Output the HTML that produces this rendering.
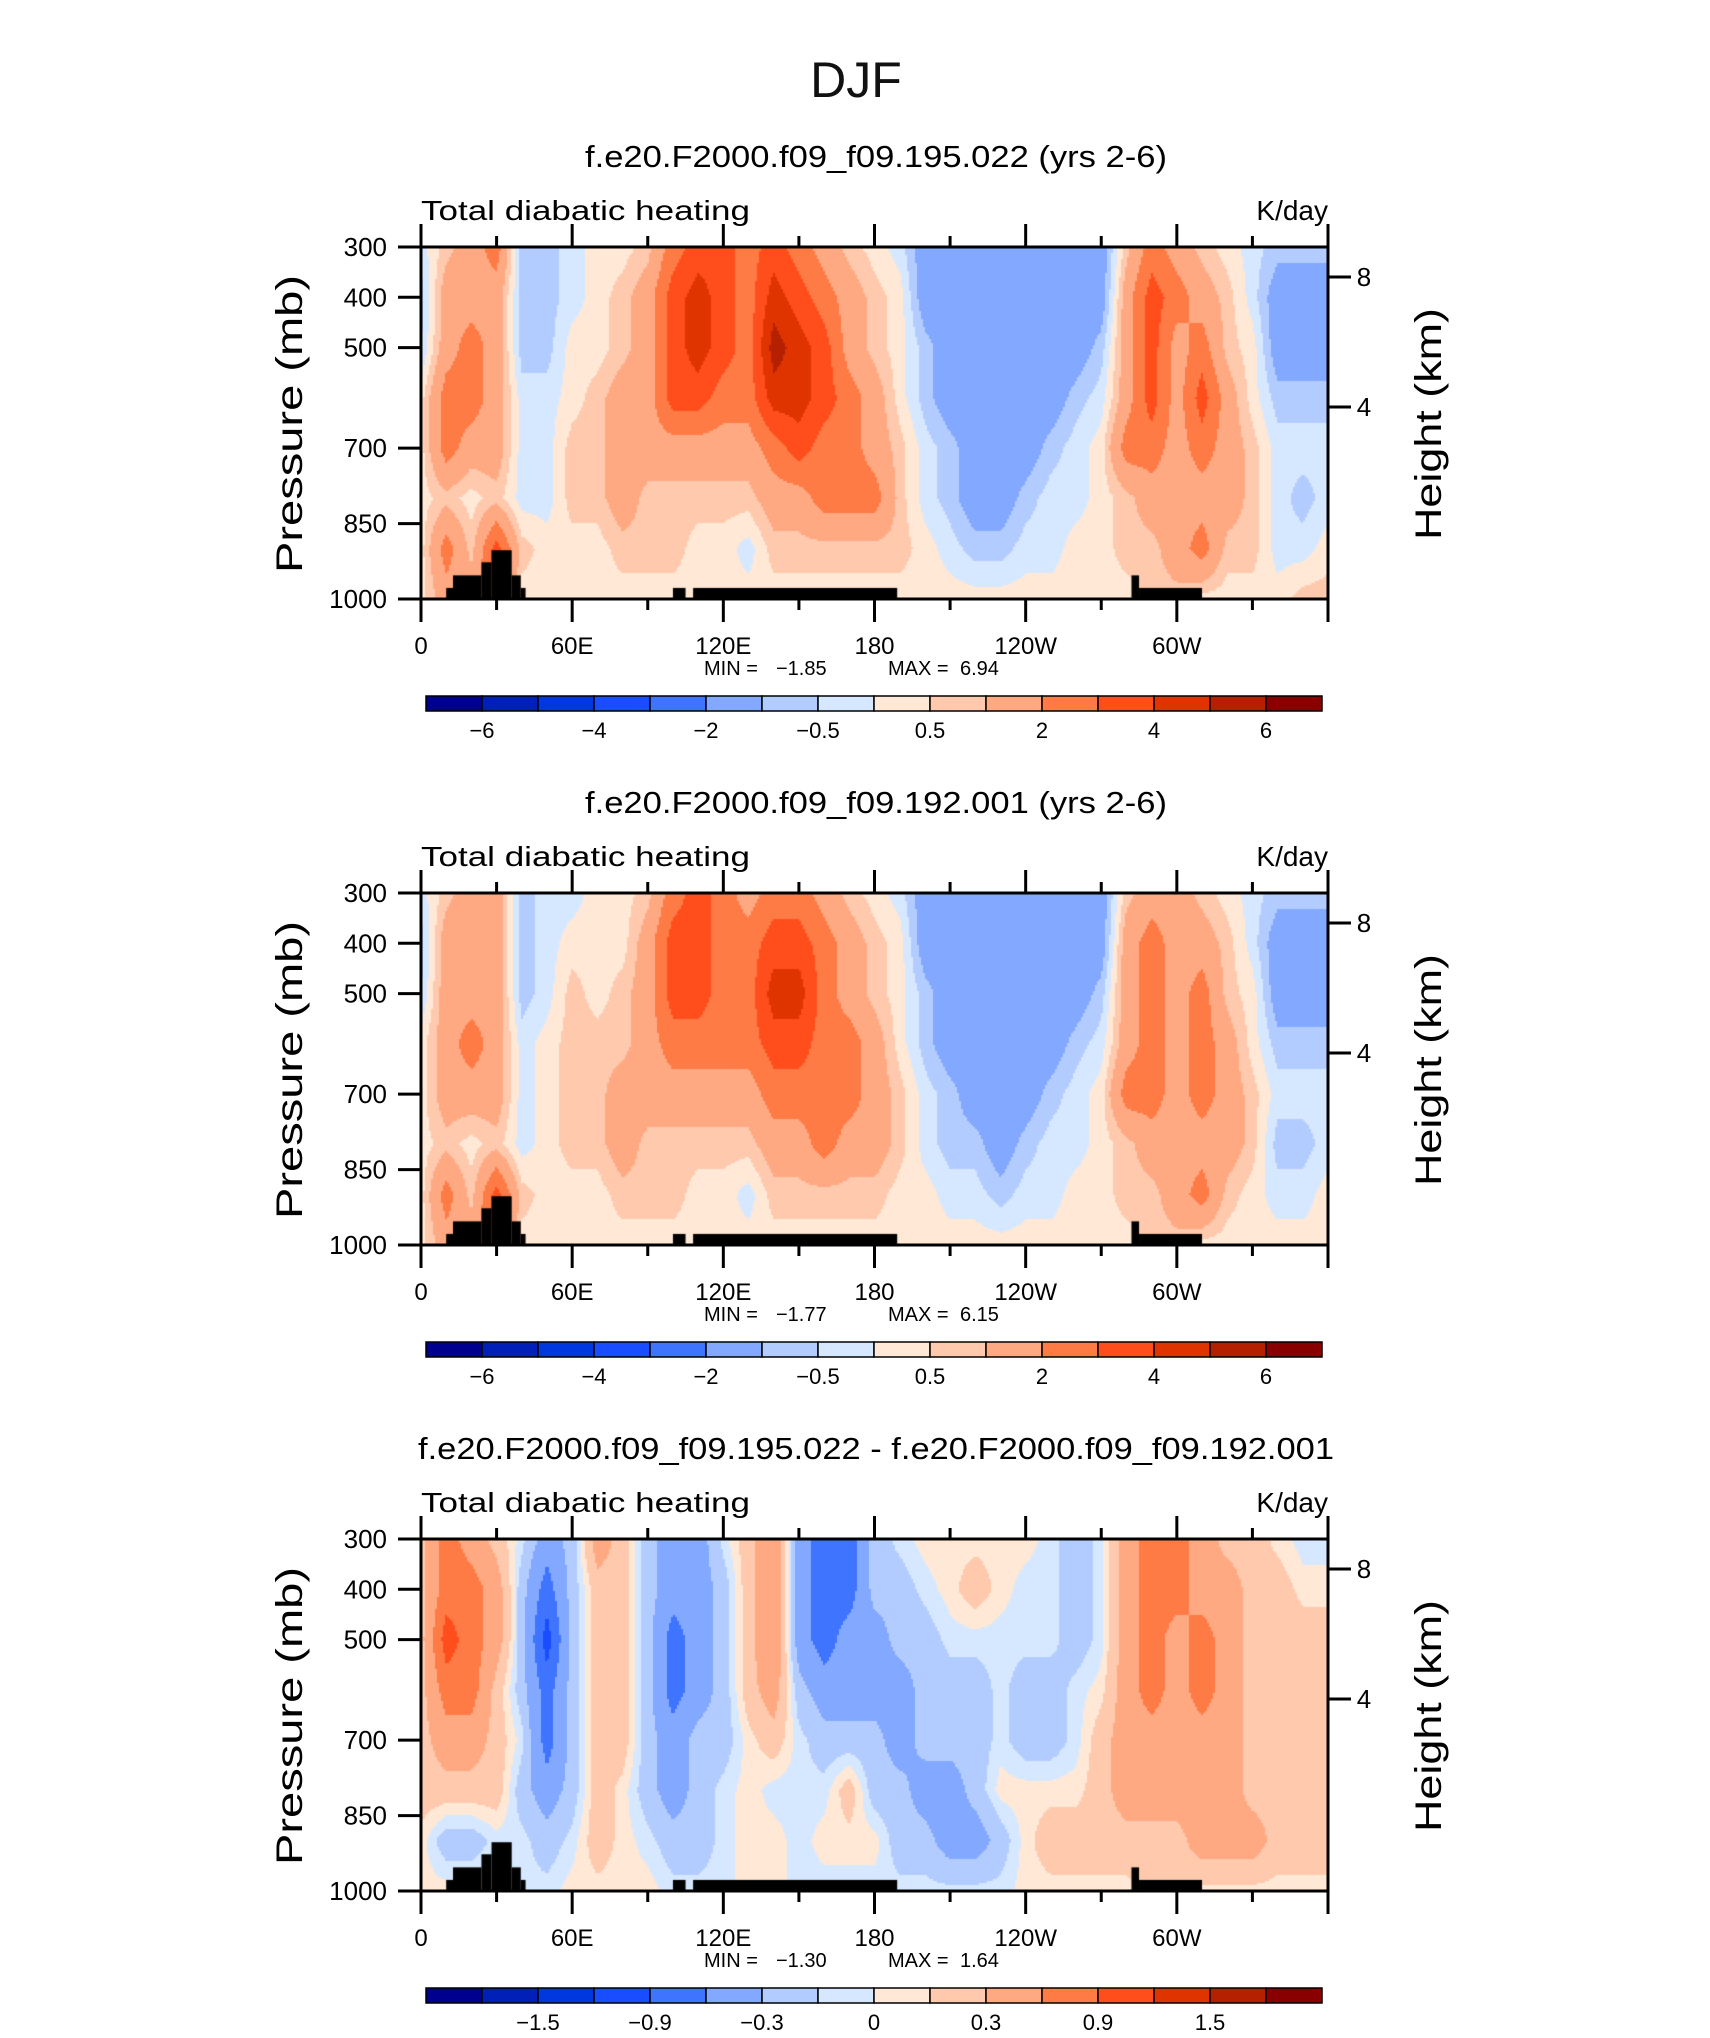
<!DOCTYPE html>
<html><head><meta charset="utf-8"><style>
body{margin:0;background:#fff;width:1710px;height:2038px;position:relative;overflow:hidden;font-family:"Liberation Sans",sans-serif}
canvas{position:absolute}
svg{position:absolute;left:0;top:0}
</style></head><body>
<canvas id="c1" width="907" height="352" style="left:421px;top:247px"></canvas>
<canvas id="c2" width="907" height="352" style="left:421px;top:893px"></canvas>
<canvas id="c3" width="907" height="352" style="left:421px;top:1539px"></canvas>
<svg id="ov" width="1710" height="2038"></svg>
<script>
// ---- data ----
const lonGrid=[0,10,20,30,40,50,60,70,80,90,100,110,120,130,140,150,160,170,180,190,200,210,220,230,240,250,260,270,280,290,300,310,320,330,340,350,360];
const presGrid=[300,400,500,600,700,800,900,1000];
const field1=[
[-0.25,-0.75,-0.5,0.25,0.25,0.25,0.25,0.25],
[0.75,1.5,1.5,2.5,2.5,0.75,2.5,1.5],
[1.5,1.5,2.5,2.5,1.5,0.25,0.75,1.5],
[2.5,1.5,1.5,1.5,1.5,0.75,3.5,3.5],
[-0.75,-0.75,-0.75,-0.25,-0.25,-0.25,0.75,0.25],
[-0.75,-0.75,-0.75,-0.25,-0.25,-0.25,0.25,0.25],
[-0.25,-0.25,0.25,0.25,0.75,0.75,0.25,0.25],
[0.25,0.25,0.25,0.75,0.75,0.75,0.25,0.25],
[0.25,0.75,0.75,1.5,1.5,1.5,0.75,0.25],
[0.75,1.5,1.5,1.5,1.5,0.75,0.75,0.25],
[2.5,3.5,3.5,3.5,1.5,0.75,0.75,0.25],
[3.5,4.5,4.5,3.5,1.5,0.75,0.25,0.25],
[3.5,3.5,3.5,2.5,1.5,0.75,0.25,0.25],
[2.5,2.5,2.5,2.5,1.5,0.75,-0.25,0.25],
[3.5,4.5,5.5,4.5,2.5,1.5,0.75,0.25],
[2.5,3.5,4.5,4.5,3.5,1.5,0.75,0.25],
[1.5,2.5,3.5,3.5,2.5,2.5,0.75,0.25],
[0.75,1.5,1.5,2.5,2.5,2.5,0.75,0.25],
[0.25,0.75,0.75,1.5,1.5,2.5,0.75,0.25],
[-0.25,0.25,0.25,0.25,0.75,0.75,0.75,0.25],
[-1.5,-1.5,-0.75,-0.75,-0.25,-0.25,0.25,0.25],
[-1.5,-1.5,-1.5,-1.5,-0.75,-0.75,-0.25,0.25],
[-1.5,-1.5,-1.5,-1.5,-1.5,-1.5,-0.75,0.25],
[-1.5,-1.5,-1.5,-1.5,-1.5,-1.5,-0.75,0.25],
[-1.5,-1.5,-1.5,-1.5,-1.5,-0.75,-0.25,0.25],
[-1.5,-1.5,-1.5,-1.5,-0.75,-0.25,-0.25,0.25],
[-1.5,-1.5,-1.5,-0.75,-0.25,-0.25,0.25,0.25],
[-1.5,-1.5,-0.75,-0.25,0.25,0.25,0.25,0.25],
[0.75,1.5,1.5,1.5,2.5,0.75,0.75,0.25],
[2.5,3.5,3.5,3.5,2.5,1.5,0.75,0.75],
[1.5,2.5,1.5,1.5,1.5,1.5,1.5,0.75],
[0.75,1.5,2.5,3.5,2.5,1.5,2.5,0.25],
[0.25,0.75,0.75,1.5,1.5,1.5,0.75,0.25],
[-0.25,-0.25,0.25,0.25,0.75,0.75,0.75,0.25],
[-0.75,-1.5,-1.5,-0.75,-0.25,-0.25,-0.25,0.25],
[-0.75,-1.5,-1.5,-0.75,-0.25,-0.75,-0.25,0.75],
[-0.75,-1.5,-1.5,-0.75,-0.25,-0.25,0.25,0.75]];
const field2=[
[-0.25,-0.75,-0.5,0.25,0.25,0.25,0.25,0.25],
[0.75,1.5,1.5,1.5,1.5,0.75,2.5,1.5],
[1.5,1.5,1.5,2.5,1.5,0.25,0.75,1.5],
[1.5,1.5,1.5,1.5,1.5,0.75,3.5,3.5],
[-0.75,-0.75,-0.75,-0.25,-0.25,-0.25,0.75,0.25],
[-0.25,-0.25,-0.25,0.25,0.25,0.25,0.25,0.25],
[-0.25,0.25,0.75,0.75,0.75,0.75,0.25,0.25],
[0.25,0.25,0.25,0.75,0.75,0.75,0.25,0.25],
[0.25,0.25,0.75,0.75,1.5,1.5,0.75,0.25],
[0.75,1.5,1.5,1.5,1.5,0.75,0.75,0.25],
[2.5,3.5,3.5,2.5,1.5,0.75,0.75,0.25],
[3.5,3.5,3.5,2.5,1.5,0.75,0.25,0.25],
[2.5,2.5,2.5,2.5,1.5,0.75,0.25,0.25],
[1.5,2.5,2.5,2.5,1.5,0.75,-0.25,0.25],
[2.5,3.5,4.5,3.5,2.5,1.5,0.75,0.25],
[2.5,3.5,4.5,3.5,2.5,1.5,0.75,0.25],
[1.5,2.5,2.5,2.5,2.5,2.5,0.75,0.25],
[0.75,1.5,1.5,2.5,2.5,1.5,0.75,0.25],
[0.25,0.75,0.75,1.5,1.5,1.5,0.75,0.25],
[-0.25,0.25,0.25,0.25,0.75,0.75,0.25,0.25],
[-1.5,-1.5,-0.75,-0.75,-0.25,-0.25,0.25,0.25],
[-1.5,-1.5,-1.5,-1.5,-0.75,-0.75,-0.25,0.25],
[-1.5,-1.5,-1.5,-1.5,-1.5,-0.75,-0.25,0.25],
[-1.5,-1.5,-1.5,-1.5,-1.5,-1.5,-0.75,0.25],
[-1.5,-1.5,-1.5,-1.5,-1.5,-0.75,-0.25,0.25],
[-1.5,-1.5,-1.5,-1.5,-0.75,-0.25,-0.25,0.25],
[-1.5,-1.5,-1.5,-0.75,-0.25,-0.25,0.25,0.25],
[-1.5,-1.5,-0.75,-0.25,0.25,0.25,0.25,0.25],
[0.75,1.5,1.5,1.5,2.5,0.75,0.75,0.25],
[1.5,2.5,2.5,2.5,2.5,1.5,0.75,0.75],
[1.5,1.5,1.5,1.5,1.5,1.5,1.5,0.75],
[0.75,1.5,2.5,2.5,2.5,1.5,2.5,0.25],
[0.25,0.75,0.75,1.5,1.5,1.5,0.75,0.25],
[-0.25,-0.25,0.25,0.25,0.75,0.75,0.25,0.25],
[-0.75,-1.5,-1.5,-0.75,-0.25,-0.75,-0.25,0.25],
[-0.75,-1.5,-1.5,-0.75,-0.25,-0.75,-0.25,0.25],
[-0.75,-1.5,-1.5,-0.75,-0.25,-0.25,0.25,0.25]];
const field3=[
[0.2,0.2,0.2,0.2,0.2,0.2,0.05,0.05],
[0.75,0.75,1.05,0.75,0.45,0.2,-0.2,0.05],
[0.45,0.75,0.75,0.75,0.45,0.2,-0.2,0.05],
[0.2,0.45,0.45,0.2,0.2,0.2,-0.05,0.05],
[-0.05,-0.2,-0.2,-0.2,-0.05,-0.2,-0.05,-0.05],
[-0.45,-0.75,-1.05,-0.75,-0.75,-0.45,-0.2,-0.05],
[-0.2,-0.2,-0.2,-0.2,-0.2,-0.2,-0.05,0.05],
[0.45,0.2,0.2,0.2,0.2,0.2,0.2,0.05],
[0.2,0.2,0.2,0.2,0.2,0.05,0.05,0.05],
[-0.2,-0.2,-0.2,-0.2,-0.2,-0.2,-0.05,0.05],
[-0.45,-0.45,-0.75,-0.75,-0.45,-0.45,-0.2,-0.05],
[-0.45,-0.45,-0.45,-0.45,-0.2,-0.2,-0.2,-0.05],
[-0.05,-0.2,-0.2,-0.2,-0.2,-0.05,-0.05,-0.05],
[0.2,0.2,0.2,0.2,0.05,0.05,0.05,0.05],
[0.6,0.6,0.6,0.45,0.2,-0.05,0.05,0.05],
[-0.45,-0.45,-0.45,-0.2,-0.05,-0.05,-0.05,-0.05],
[-0.75,-0.75,-0.75,-0.45,-0.2,-0.05,0.05,-0.05],
[-0.75,-0.75,-0.45,-0.45,-0.2,0.2,0.05,-0.05],
[-0.2,-0.2,-0.45,-0.45,-0.2,-0.2,0.05,-0.05],
[-0.05,-0.2,-0.2,-0.45,-0.45,-0.2,-0.2,-0.05],
[0.05,-0.05,-0.2,-0.2,-0.2,-0.45,-0.2,-0.05],
[0.05,0.05,-0.05,-0.2,-0.2,-0.45,-0.45,-0.05],
[0.05,0.2,-0.05,-0.2,-0.2,-0.2,-0.45,-0.05],
[0.05,0.05,-0.05,-0.05,-0.05,0.05,-0.2,-0.05],
[0.05,-0.05,-0.05,-0.2,-0.2,0.05,0.05,0.05],
[-0.05,-0.05,-0.05,-0.2,-0.2,0.05,0.2,0.05],
[-0.2,-0.2,-0.2,-0.05,-0.05,0.05,0.2,0.05],
[-0.05,-0.05,-0.05,0.05,0.2,0.2,0.2,0.05],
[0.45,0.45,0.45,0.45,0.45,0.45,0.2,0.05],
[0.75,0.75,0.75,0.75,0.45,0.45,0.2,0.2],
[0.75,0.75,0.45,0.45,0.45,0.45,0.2,0.2],
[0.45,0.45,0.75,0.75,0.45,0.45,0.45,0.05],
[0.2,0.45,0.45,0.45,0.45,0.45,0.45,0.05],
[0.2,0.2,0.2,0.2,0.2,0.2,0.45,0.05],
[0.05,0.2,0.2,0.2,0.2,0.2,0.2,0.05],
[-0.05,0.05,0.2,0.2,0.2,0.2,0.2,0.05],
[-0.05,0.05,0.2,0.2,0.2,0.2,0.2,0.05]];
const levels12=[-6,-5,-4,-3,-2,-1,-0.5,0,0.5,1,2,3,4,5,6];
const levels3=[-1.8,-1.5,-1.2,-0.9,-0.6,-0.3,-0.1,0,0.1,0.3,0.6,0.9,1.2,1.5,1.8];
const cbLabels12=["−6","−4","−2","−0.5","0.5","2","4","6"];
const cbLabels3=["−1.5","−0.9","−0.3","0","0.3","0.9","1.5"];
const colors=["#00008f","#0020b8","#0038e0","#1a4dff","#3f74ff","#82a8ff","#b3ccff","#d6e8ff","#ffe9d6","#ffc9ae","#ffa982","#ff7b46","#ff4e1b","#e03400","#b52000","#880000"];
const topoStart=[10,12.7,24,28,36,39.6,100,108,282,285];
const topoEnd=[12.7,24,28,36,39.6,41.5,105,189,285,310];
const topoPres=[978,953,927,903,953,978,978,978,953,978];
const lonTicks=[0,60,120,180,240,300];
const lonLabels=["0","60E","120E","180","120W","60W"];
const presTicks=[300,400,500,700,850,1000];
const heightTicks=[8,4];
const panelTitles=["f.e20.F2000.f09_f09.195.022 (yrs 2-6)","f.e20.F2000.f09_f09.192.001 (yrs 2-6)","f.e20.F2000.f09_f09.195.022 - f.e20.F2000.f09_f09.192.001"];
const minVals=["−1.85","−1.77","−1.30"];
const maxVals=["6.94","6.15","1.64"];

// ---- layout ----
const PL=421,PW=907,PH=352,TOPS=[247,893,1539];
const xOf=lon=>lon/360*PW;
const yOf=p=>(p-300)/700*PH;
const heightY=[30,160];

function interp(field,lon,p){
  let i=Math.min(Math.floor(lon/10),35), fx=(lon-lonGrid[i])/10;
  let j=0; while(j<presGrid.length-2 && p>presGrid[j+1]) j++;
  let fy=(p-presGrid[j])/(presGrid[j+1]-presGrid[j]); fy=Math.max(0,Math.min(1,fy));
  const a=field[i][j],b=field[i+1][j],c=field[i][j+1],d=field[i+1][j+1];
  return a*(1-fx)*(1-fy)+b*fx*(1-fy)+c*(1-fx)*fy+d*fx*fy;
}
function cls(v,lv){let k=0;while(k<lv.length&&v>=lv[k])k++;return k;}
function draw(id,field,lv){
  const ctx=document.getElementById(id).getContext('2d');
  const s=2;
  for(let x=0;x<PW;x+=s){for(let y=0;y<PH;y+=s){
    const lon=(x+1)/PW*360,p=300+(y+1)/PH*700;
    ctx.fillStyle=colors[cls(interp(field,lon,p),lv)];ctx.fillRect(x,y,s,s);}}
  ctx.fillStyle="#000";
  for(let k=0;k<topoStart.length;k++){
    const x0=xOf(topoStart[k]),x1=xOf(topoEnd[k]),y0=yOf(topoPres[k]);
    ctx.fillRect(x0,y0,x1-x0,PH-y0);}
}
draw('c1',field1,levels12);draw('c2',field2,levels12);draw('c3',field3,levels3);

const NS="http://www.w3.org/2000/svg",svg=document.getElementById('ov');
function el(tag,attrs,txt){const e=document.createElementNS(NS,tag);for(const k in attrs)e.setAttribute(k,attrs[k]);if(txt!==undefined)e.textContent=txt;svg.appendChild(e);return e;}
let t=el('text',{x:856,y:97,'font-size':50,'text-anchor':'middle','font-weight':'300',fill:'#111'},'DJF');



TOPS.forEach((T,pi)=>{
  const lv=pi<2?cbLabels12:cbLabels3;
  let e=el('text',{x:876,y:T-80,'font-size':31,'text-anchor':'middle',fill:'#000',textLength:pi<2?582:916,lengthAdjust:'spacingAndGlyphs'},panelTitles[pi]);
  
  
  e=el('text',{x:PL,y:T-27,'font-size':28,fill:'#000',textLength:329,lengthAdjust:'spacingAndGlyphs'},'Total diabatic heating');
  
  
  e=el('text',{x:PL+PW,y:T-27,'font-size':28,fill:'#000','text-anchor':'end'},'K/day');
  
  
  e=el('rect',{x:PL,y:T,width:PW,height:PH,fill:'none',stroke:'#000','stroke-width':3});
  
  
  for(let lon=0;lon<=360;lon+=30){
    const major=lon%60===0,L=major?23:11,x=PL+xOf(lon);
    e=el('line',{x1:x,y1:T,x2:x,y2:T-L,stroke:'#000','stroke-width':3});
    
    
    e=el('line',{x1:x,y1:T+PH,x2:x,y2:T+PH+L,stroke:'#000','stroke-width':3});
    
    
  }
  lonTicks.forEach((lon,k)=>{
    e=el('text',{x:PL+xOf(lon),y:T+PH+55,'font-size':24,'text-anchor':'middle',fill:'#000'},lonLabels[k]);
    
    
  });
  presTicks.forEach(p=>{
    const y=T+yOf(p);
    e=el('line',{x1:PL-23,y1:y,x2:PL,y2:y,stroke:'#000','stroke-width':3});
    
    
    e=el('text',{x:387,y:y+9,'font-size':26,'text-anchor':'end',fill:'#000'},String(p));
    
    
  });
  heightTicks.forEach((h,k)=>{
    const y=T+heightY[k];
    e=el('line',{x1:PL+PW,y1:y,x2:PL+PW+23,y2:y,stroke:'#000','stroke-width':3});
    
    
    e=el('text',{x:1364,y:y+9,'font-size':26,'text-anchor':'middle',fill:'#000'},String(h));
    
    
  });
  e=el('text',{x:0,y:0,'font-size':37,'text-anchor':'middle',fill:'#000',transform:`translate(302,${T+177}) rotate(-90)`,textLength:298,lengthAdjust:'spacingAndGlyphs'},'Pressure (mb)');
  
  
  e=el('text',{x:0,y:0,'font-size':37,'text-anchor':'middle',fill:'#000',transform:`translate(1441,${T+177}) rotate(-90)`,textLength:232,lengthAdjust:'spacingAndGlyphs'},'Height (km)');
  
  
  e=el('text',{x:704,y:T+428,'font-size':20,fill:'#000'},'MIN =');
  
  
  e=el('text',{x:776,y:T+428,'font-size':20,fill:'#000'},minVals[pi]);
  
  
  e=el('text',{x:888,y:T+428,'font-size':20,fill:'#000'},'MAX =');
  
  
  e=el('text',{x:960,y:T+428,'font-size':20,fill:'#000'},maxVals[pi]);
  
  
  const cbY=T+449,cbX=426,bw=56;
  colors.forEach((c,k)=>{
    e=el('rect',{x:cbX+k*bw,y:cbY,width:bw,height:15,fill:c,stroke:'#000','stroke-width':1.5});
    
    
  });
  lv.forEach((s,k)=>{
    const b=pi<2?1+2*k:2+2*k;
    e=el('text',{x:cbX+b*bw,y:cbY+42,'font-size':22,'text-anchor':'middle',fill:'#000'},s);
    
    
  });
});
</script>
</body></html>
